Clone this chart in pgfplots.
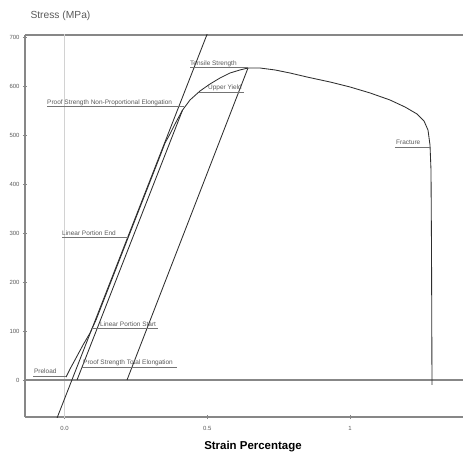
\documentclass[border=0pt]{standalone}
\usepackage{fontspec}
\setmainfont{Liberation Sans}
\usepackage{pgfplots}
\pgfplotsset{compat=1.18}

\definecolor{axisgray}{HTML}{878787}
\definecolor{curvegray}{HTML}{2E2E2E}
\definecolor{textgray}{HTML}{5A5A5A}
\definecolor{gridgray}{HTML}{D2D2D2}

\begin{document}
\begin{tikzpicture}[
  lbl/.style={font=\fontsize{6.5}{7}\selectfont, text=textgray, inner sep=0pt, anchor=base west, yshift=2bp},
  lead/.style={draw=textgray!85, line width=0.5bp}
]
\useasboundingbox (-25bp,-37bp) rectangle (438bp,417bp);
\begin{axis}[
  scale only axis, width=438bp, height=382bp,
  xmin=-0.1384, xmax=1.3958, ymin=-75.66, ymax=705.5,
  axis x line=box, axis y line=left,
  axis line style={-, draw=axisgray, line width=1.5bp},
  every outer y axis line/.append style={-},
  y axis line style={-},
  xtick={0,0.5,1}, xticklabels={0.0,0.5,1},
  ytick={0,100,...,700},
  xtick pos=left, ytick pos=left,
  tick align=center, major tick length=4bp,
  tick style={draw=axisgray, line width=0.6bp},
  tick label style={font=\fontsize{6}{7}\selectfont, text=textgray},
  xticklabel style={yshift=-4bp},
  /pgf/number format/assume math mode=true,
  xlabel={Strain Percentage},
  xlabel style={font=\fontsize{11.5}{13}\selectfont\bfseries, text=black,
    at={(axis description cs:0.5205,-0.0785)}, anchor=center},
  ylabel={Stress (MPa)},
  ylabel style={rotate=-90, font=\fontsize{10.3}{12}\selectfont, text=textgray,
    at={(axis description cs:0.0046,1.0497)}, anchor=west},
]
% zero-strain reference line
\addplot[gridgray, line width=0.6bp] coordinates {(0,-100) (0,800)};
% zero-stress line
\addplot[axisgray, line width=1.5bp] coordinates {(-0.2,0) (1.5,0)};

% linear fit of the elastic portion (modulus line)
\addplot[curvegray, line width=0.85bp] coordinates {(-0.0277,-80) (0.5081,720)};
% offset line for non-proportional elongation
\addplot[curvegray, line width=0.85bp] coordinates {(0.0438,0) (0.4135,552)};
% elastic unloading line from the tensile strength point
\addplot[curvegray, line width=0.85bp] coordinates {(0.2189,0) (0.6427,638)};

% measured stress-strain curve
\addplot[curvegray, line width=0.85bp] coordinates {
  (0.0053,6) (0.0193,22.5) (0.0403,45) (0.0648,71.6) (0.0893,96)
  (0.1103,122.7) (0.162,200) (0.2288,300) (0.2958,400) (0.336,460)
  (0.352,484.7) (0.3695,503) (0.387,523.5) (0.4135,552) (0.4396,572.6)
  (0.4746,591) (0.5096,605.3) (0.5447,617.6) (0.5797,627.8) (0.6147,634)
  (0.6427,638) (0.6848,638) (0.7373,634) (0.7898,627.8) (0.8494,619.6)
  (0.9299,609.4) (1.0,599.2) (1.0701,587) (1.1401,572.6) (1.1926,558.3)
  (1.2347,544) (1.2592,529.7) (1.2732,511.2) (1.2802,480.6) (1.2837,429.4)
  (1.2855,265.8) (1.2872,-10.2)
};

% annotations
\draw[lead] (axis cs:-0.110,8.2) -- (axis cs:0.005,8.2);
\node[lbl] at (axis cs:-0.107,8.2) {Preload};

\draw[lead] (axis cs:0.0613,26.6) -- (axis cs:0.394,26.6);
\node[lbl] at (axis cs:0.0648,26.6) {Proof Strength Total Elongation};

\draw[lead] (axis cs:0.0971,106.3) -- (axis cs:0.3275,106.3);
\node[lbl] at (axis cs:0.1243,106.3) {Linear Portion Start};

\draw[lead] (axis cs:-0.0088,292.4) -- (axis cs:0.2217,292.4);
\node[lbl] at (axis cs:-0.0088,292.4) {Linear Portion End};

\draw[lead] (axis cs:-0.0613,560) -- (axis cs:0.419,560);
\node[lbl] at (axis cs:-0.0613,560) {Proof Strength Non-Proportional Elongation};

\draw[lead] (axis cs:0.4396,640) -- (axis cs:0.6427,640);
\node[lbl] at (axis cs:0.4396,640) {Tensile Strength};

\draw[lead] (axis cs:0.472,589) -- (axis cs:0.6287,589);
\node[lbl] at (axis cs:0.5026,589) {Upper Yield};

\draw[lead] (axis cs:1.1576,476.5) -- (axis cs:1.2802,476.5);
\node[lbl] at (axis cs:1.161,476.5) {Fracture};
\end{axis}
\end{tikzpicture}
\end{document}
